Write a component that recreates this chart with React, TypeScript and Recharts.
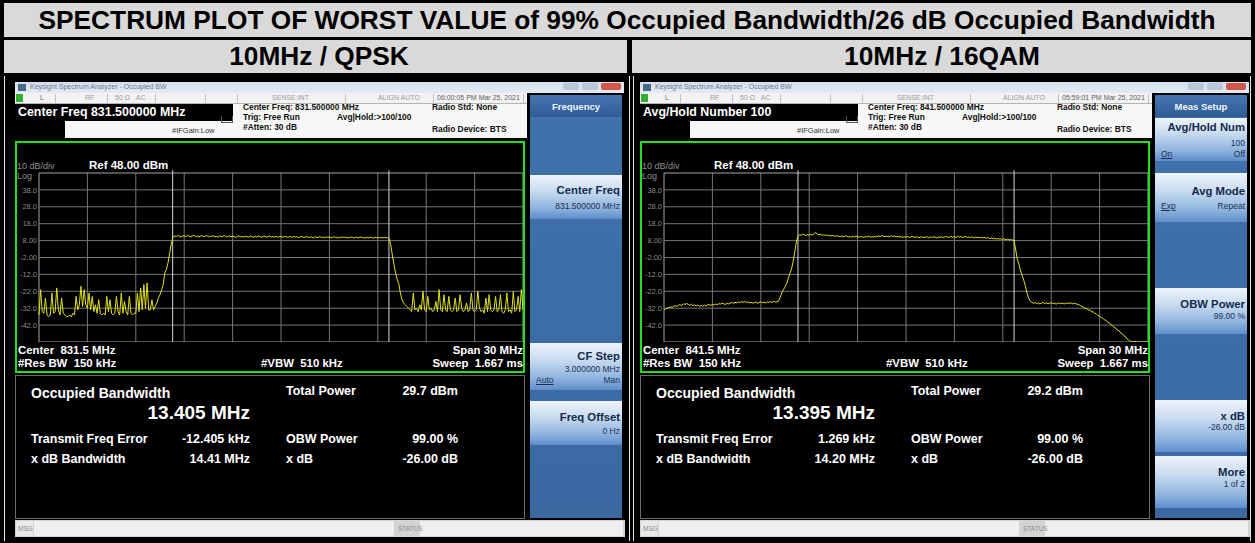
import React from 'react'
import { Line, LineChart, ReferenceLine, XAxis, YAxis } from 'recharts'

const FONT = '"Liberation Sans", Arial, sans-serif'

// sweep: -15 MHz .. +15 MHz around center, 0.1 MHz per point
const FREQ_START = -15
const FREQ_STEP = 0.1

// 10MHz / QPSK trace (dBm)
const qpskTrace = [
  -36, -21, -34, -35, -26, -36, -37, -36, -23, -35,
  -34, -20, -33, -36, -26, -35, -36, -37, -37, -36,
  -37, -35, -36, -25, -33, -30, -19, -31, -21, -30,
  -32, -23, -33, -25, -34, -30, -35, -27, -35, -36,
  -35, -36, -25, -34, -27, -35, -36, -35, -25, -34,
  -36, -23, -35, -28, -34, -36, -25, -35, -36, -35,
  -35, -23, -34, -20, -33, -18, -32, -17, -33, -33,
  -27, -33, -31, -29, -26, -24, -21, -18, -11, -9,
  -5, 0.5, 6, 10.2, 10.8, 10.4, 11, 10.6, 10.1, 10.7,
  10.9, 10.3, 11.2, 10.6, 10.2, 10.8, 11.1, 10.4, 10.7, 10.1,
  10.6, 11.0, 10.3, 10.5, 11.1, 10.2, 10.7, 10.4, 10.9, 10.3,
  10.5, 10.0, 10.8, 10.3, 10.6, 11.0, 10.1, 10.4, 10.7, 10.2,
  10.6, 10.3, 9.9, 10.5, 10.8, 10.2, 10.4, 10.0, 10.6, 10.3,
  10.1, 10.7, 10.4, 10.0, 10.5, 10.2, 10.8, 10.3, 9.9, 10.4,
  10.6, 10.1, 10.3, 10.7, 10.0, 10.4, 10.2, 10.6, 9.9, 10.3,
  10.5, 10.0, 10.3, 10.6, 9.8, 10.2, 10.4, 9.9, 10.5, 10.1,
  10.3, 9.7, 10.2, 10.5, 9.9, 10.1, 10.4, 9.8, 10.2, 10.0,
  9.6, 10.3, 10.0, 9.8, 10.4, 9.9, 10.1, 9.7, 10.2, 9.9,
  10.2, 9.6, 9.9, 10.3, 9.8, 10.0, 9.5, 10.1, 9.8, 10.2,
  9.7, 10.0, 9.6, 9.9, 10.2, 9.5, 9.8, 10.1, 9.6, 9.9,
  10.1, 9.7, 9.5, 9.9, 9.6, 10.0, 9.8, 9.4, 9.9, 9.7,
  9.8, 9.5, 9.9, 9.6, 10.0, 9.7, 9.8, 9.3, 5.6, -0.5,
  -6, -11, -15, -17.5, -23, -27, -29, -30, -31, -32,
  -33, -34, -23, -33, -32, -34, -30, -33, -22, -33,
  -34, -25, -33, -32, -34, -33, -28, -34, -21, -33,
  -34, -24, -33, -34, -25, -33, -34, -33, -26, -34,
  -33, -24, -32, -34, -33, -29, -34, -33, -23, -33,
  -34, -33, -22, -32, -34, -33, -35, -26, -34, -24,
  -33, -34, -33, -25, -34, -33, -24, -34, -35, -33,
  -23, -34, -33, -35, -22, -34, -33, -25, -34, -21,
  -33,
]

// 10MHz / 16QAM trace (dBm)
const qam16Trace = [
  -33.0, -32.4, -32.1, -31.6, -31.3, -31.6, -30.8, -30.5, -30.9, -30.2,
  -29.9, -30.4, -29.4, -29.8, -29.2, -29.7, -30.3, -29.6, -30.5, -30.1,
  -30.6, -30.1, -30.9, -30.4, -30.9, -30.2, -30.7, -30.0, -29.8, -30.4,
  -29.7, -30.1, -29.5, -29.9, -29.3, -29.6, -29.0, -29.4, -29.8, -29.2,
  -29.5, -29.0, -28.7, -29.1, -28.5, -28.9, -28.3, -28.7, -28.1, -28.5,
  -28.0, -28.6, -28.3, -28.9, -28.5, -29.0, -28.7, -28.4, -29.1, -28.6,
  -28.2, -28.7, -28.4, -28.9, -28.3, -28.6, -28.1, -28.5, -28.0, -28.4,
  -28.2, -27.8, -25.5, -23.0, -21.0, -19.5, -17.5, -14.5, -11.5, -9.0,
  -4.5, 1.0, 7.0, 10.6, 11.4, 11.2, 11.8, 11.5, 11.0, 11.6,
  11.2, 11.7, 11.3, 12.1, 12.8, 11.9, 11.4, 11.8, 11.1, 11.5,
  11.0, 11.4, 10.8, 11.2, 10.7, 11.1, 10.5, 10.9, 10.6, 10.3,
  10.7, 10.2, 10.5, 10.9, 10.1, 10.4, 10.0, 10.6, 10.2, 10.8,
  10.3, 10.0, 10.5, 10.1, 9.9, 10.4, 10.2, 10.7, 10.0, 10.3,
  10.1, 10.5, 10.2, 10.8, 10.4, 10.9, 10.6, 10.3, 10.7, 10.2,
  10.5, 10.9, 10.4, 10.7, 10.2, 10.5, 10.1, 10.4, 9.9, 10.3,
  10.0, 10.4, 9.8, 10.2, 10.5, 9.9, 10.1, 10.3, 9.7, 10.0,
  10.2, 9.8, 10.0, 10.4, 9.7, 10.1, 9.9, 10.3, 10.0, 9.6,
  10.1, 9.9, 10.3, 9.8, 10.2, 10.5, 9.9, 10.1, 10.4, 10.0,
  10.3, 9.8, 10.6, 10.1, 10.4, 9.9, 10.2, 10.5, 9.8, 10.1,
  9.9, 10.2, 9.6, 10.0, 9.7, 10.1, 9.5, 9.9, 9.6, 9.8,
  9.4, 9.7, 9.2, 9.6, 9.0, 9.4, 8.9, 9.3, 8.8, 9.1,
  8.7, 9.0, 8.5, 8.9, 8.4, 8.6, 8.3, 8.2, 2.5, -3.0,
  -6.0, -10.0, -12.5, -15.5, -19.0, -23.0, -26.0, -27.8, -28.6, -29.0,
  -28.7, -29.2, -28.9, -29.5, -29.0, -28.6, -29.3, -28.8, -29.4, -29.0,
  -28.8, -29.3, -29.0, -29.6, -29.1, -28.9, -29.4, -29.0, -29.5, -29.1,
  -28.9, -29.2, -28.8, -29.4, -29.0, -29.3, -29.6, -29.8, -30.4, -31.0,
  -31.3, -32.2, -32.1, -33.2, -33.0, -34.2, -34.1, -35.0, -35.4, -36.4,
  -36.7, -37.6, -37.9, -38.9, -39.2, -40.3, -40.7, -41.8, -42.2, -43.3,
  -43.7, -45.0, -45.3, -46.6, -47.0, -48.3, -48.8, -50.2, -50.8, -51.6,
  -51.8, -51.9, -51.7, -52.0, -51.9, -52.0, -51.8, -52.0, -52.0, -51.9,
  -52.0,
]

// Ref 48 dBm, 10 dB/div
const yTicks = [48, 38, 28, 18, 8, -2, -12, -22, -32, -42, -52]
const yLabels = ['', '38.0', '28.0', '18.0', '8.00', '-2.00', '-12.0', '-22.0', '-32.0', '-42.0', '']
const xTicks = [-15, -12, -9, -6, -3, 0, 3, 6, 9, 12, 15]

// measured results
const obwMHz = [13.405, 13.395]
const freqErrKHz = [-12.405, 1.269]
const totalPower = ['29.7 dBm', '29.2 dBm']
const freqErrText = ['-12.405 kHz', '1.269 kHz']
const xdbBwText = ['14.41 MHz', '14.20 MHz']
const centerText = ['831.5 MHz', '841.5 MHz']
const centerFreqText = ['831.500000 MHz', '841.500000 MHz']
const clockText = ['06:00:05 PM Mar 25, 2021', '05:59:01 PM Mar 25, 2021']
const headerText = ['Center Freq 831.500000 MHz', 'Avg/Hold Number 100']
const menuTitle = ['Frequency', 'Meas Setup']
const columnTitles = ['10MHz / QPSK', '10MHz / 16QAM']

type SoftKey = {
  top: number
  bottom: number
  title: string
  ty: number
  value?: string
  vy?: number
  optL?: string
  optR?: string
  oy?: number
}

const freqKeys: SoftKey[] = [
  { top: 175, bottom: 219, title: 'Center Freq', ty: 191, value: '831.500000 MHz', vy: 206 },
  { top: 343, bottom: 390, title: 'CF Step', ty: 357, value: '3.000000 MHz', vy: 369, optL: 'Auto', optR: 'Man', oy: 380 },
  { top: 401, bottom: 445, title: 'Freq Offset', ty: 418, value: '0 Hz', vy: 431 },
]
const measKeys: SoftKey[] = [
  { top: 118, bottom: 161, title: 'Avg/Hold Num', ty: 128, value: '100', vy: 143, optL: 'On', optR: 'Off', oy: 154 },
  { top: 173, bottom: 222, title: 'Avg Mode', ty: 192, optL: 'Exp', optR: 'Repeat', oy: 206 },
  { top: 288, bottom: 334, title: 'OBW Power', ty: 305, value: '99.00 %', vy: 316 },
  { top: 400, bottom: 452, title: 'x dB', ty: 417, value: '-26.00 dB', vy: 427 },
  { top: 456, bottom: 508, title: 'More', ty: 473, value: '1 of 2', vy: 484 },
]
const softKeys = [freqKeys, measKeys]
const traces = [qpskTrace, qam16Trace]

type TProps = {
  x: number
  y: number
  s: number
  c?: string
  b?: boolean
  a?: 'start' | 'middle' | 'end'
  u?: boolean
  children: React.ReactNode
}

// text placed by its visual centre
function T({ x, y, s, c = '#fff', b = false, a = 'start', u = false, children }: TProps) {
  const shift = a === 'end' ? 'translateX(-100%)' : a === 'middle' ? 'translateX(-50%)' : undefined
  return (
    <div
      style={{
        position: 'absolute',
        left: x,
        top: y - s * 0.6,
        fontSize: s,
        lineHeight: `${s * 1.2}px`,
        color: c,
        fontWeight: b ? 'bold' : 'normal',
        whiteSpace: 'pre',
        transform: shift,
        textDecoration: u ? 'underline' : undefined,
      }}
    >
      {children}
    </div>
  )
}

function Box({ x, y, w, h, bg, style }: { x: number; y: number; w: number; h: number; bg: string; style?: React.CSSProperties }) {
  return <div style={{ position: 'absolute', left: x, top: y, width: w, height: h, background: bg, ...style }} />
}

function Trace({ idx }: { idx: number }) {
  const rows = traces[idx].map((v, i) => ({ f: Math.round((FREQ_START + i * FREQ_STEP) * 10) / 10, v }))
  const c = freqErrKHz[idx] / 1000
  const lo = c - obwMHz[idx] / 2
  const hi = c + obwMHz[idx] / 2
  const edge = (v: number, ticks: number[]) => v === ticks[0] || v === ticks[ticks.length - 1]
  return (
    <LineChart width={508} height={173} data={rows} margin={{ top: 4, right: 0, bottom: 0, left: 0 }}>
      <XAxis
        dataKey='f'
        type='number'
        domain={[-15, 15]}
        ticks={xTicks}
        tick={false}
        tickLine={false}
        axisLine={false}
        height={0}
        interval={0}
      />
      <YAxis
        type='number'
        domain={[-52, 48]}
        ticks={yTicks}
        interval={0}
        width={24}
        tickLine={false}
        axisLine={false}
        tickSize={0}
        tickMargin={2}
        tick={{ fill: '#8c8c8c', fontSize: 7.5, fontFamily: FONT }}
        tickFormatter={(v: number) => yLabels[yTicks.indexOf(v)] ?? ''}
      />
      {/* graticule */}
      {xTicks.map((x) => (
        <ReferenceLine
          key={'gx' + x}
          segment={[{ x, y: -52 }, { x, y: 48 }]}
          stroke={edge(x, xTicks) ? '#a4a4a4' : '#767676'}
          ifOverflow='visible'
        />
      ))}
      {yTicks.map((y) => (
        <ReferenceLine
          key={'gy' + y}
          segment={[{ x: -15, y }, { x: 15, y }]}
          stroke={edge(y, yTicks) ? '#a4a4a4' : '#767676'}
          ifOverflow='visible'
        />
      ))}
      {/* OBW markers */}
      <ReferenceLine segment={[{ x: lo, y: -52 }, { x: lo, y: 49.6 }]} stroke='#d6d6d6' ifOverflow='visible' />
      <ReferenceLine segment={[{ x: hi, y: -52 }, { x: hi, y: 49.6 }]} stroke='#d6d6d6' ifOverflow='visible' />
      <Line
        dataKey='v'
        type='linear'
        stroke='#e2e21c'
        strokeWidth={1}
        dot={false}
        isAnimationActive={false}
      />
    </LineChart>
  )
}

function Screen({ idx, left }: { idx: number; left: number }) {
  const sep = [40, 92, 140, 190, 222, 330, 418, 508]
  return (
    <div style={{ position: 'absolute', left, top: 0, width: 610, height: 543 }}>
      {/* window title bar */}
      <Box x={0} y={82} w={609} h={11} bg='linear-gradient(#d4dfec, #e3eaf3)' />
      <Box x={3} y={84} w={8} h={7} bg='#4a6a8a' />
      <T x={15} y={87.5} s={7} c='#6a7891'>Keysight Spectrum Analyzer - Occupied BW</T>
      <Box x={548} y={83} w={16} h={7} bg='#b8c8da' style={{ borderRadius: 2 }} />
      <Box x={567} y={83} w={16} h={7} bg='#b8c8da' style={{ borderRadius: 2 }} />
      <Box x={586} y={83} w={20} h={7} bg='#d2574a' style={{ borderRadius: 2 }} />

      {/* status row */}
      <Box x={0} y={93} w={512} h={10} bg='#f2f2f2' style={{ borderBottom: '1px solid #b5b5b5' }} />
      <Box x={1} y={94} w={7} h={8} bg='#2fae2f' />
      {sep.map((s) => (
        <Box key={s} x={s} y={94} w={1} h={9} bg='#c2c2c2' />
      ))}
      <T x={25} y={98.5} s={7} c='#707070'>L</T>
      <T x={70} y={98.5} s={7} c='#9a9a9a'>RF</T>
      <T x={100} y={98.5} s={7} c='#9a9a9a'>{'50 Ω   AC'}</T>
      <T x={257} y={98.5} s={7} c='#9a9a9a'>SENSE:INT</T>
      <T x={363} y={98.5} s={7} c='#9a9a9a'>ALIGN AUTO</T>
      <T x={422} y={98.5} s={7} c='#606060'>{clockText[idx]}</T>

      {/* settings header */}
      <Box x={0} y={104} w={512} h={34} bg='#f7f7f7' />
      <Box x={0} y={104} w={218} h={17} bg='#000' />
      <Box x={0} y={121} w={50} h={17} bg='#000' />
      <T x={3} y={112} s={12.4} b>{headerText[idx]}</T>
      <T x={228} y={107} s={8.4} b c='#111'>{'Center Freq: ' + centerFreqText[idx]}</T>
      <T x={228} y={117} s={8.4} b c='#111'>Trig: Free Run</T>
      <T x={322} y={117} s={8.4} b c='#111'>{'Avg|Hold:>100/100'}</T>
      <T x={228} y={127} s={8.4} b c='#111'>#Atten: 30 dB</T>
      <T x={157} y={130} s={7.5} c='#333'>#IFGain:Low</T>
      <T x={417} y={107} s={8.4} b c='#111'>Radio Std: None</T>
      <T x={417} y={129} s={8.4} b c='#111'>Radio Device: BTS</T>
      <Box x={206} y={116} w={10} h={6} bg='transparent' style={{ border: '1px solid #555', borderTop: 'none' }} />

      {/* trace window */}
      <Box x={0} y={141} w={510} h={232} bg='#000' style={{ border: '2px solid #1ee41e', boxSizing: 'border-box' }} />
      <T x={2} y={166} s={9} c='#8f8f8f'>10 dB/div</T>
      <T x={74} y={166} s={11.5} b>Ref 48.00 dBm</T>
      <T x={2} y={176} s={9} c='#8f8f8f'>Log</T>
      <div style={{ position: 'absolute', left: 0, top: 169 }}>
        <Trace idx={idx} />
      </div>
      <T x={3} y={351} s={11.4} b>{'Center  ' + centerText[idx]}</T>
      <T x={3} y={364} s={11.4} b>#Res BW  150 kHz</T>
      <T x={246} y={364} s={11.4} b>#VBW  510 kHz</T>
      <T x={508} y={351} s={11.4} b a='end'>Span 30 MHz</T>
      <T x={508} y={364} s={11.4} b a='end'>Sweep  1.667 ms</T>

      {/* results */}
      <Box x={0} y={375} w={510} h={144} bg='#000' style={{ border: '1px solid #6a6a6a', boxSizing: 'border-box' }} />
      <T x={16} y={393} s={14} b>Occupied Bandwidth</T>
      <T x={235} y={413} s={19} b a='end'>{obwMHz[idx].toFixed(3) + ' MHz'}</T>
      <T x={271} y={391} s={12.5} b>Total Power</T>
      <T x={443} y={391} s={12.5} b a='end'>{totalPower[idx]}</T>
      <T x={16} y={439} s={12.5} b>Transmit Freq Error</T>
      <T x={235} y={439} s={12.5} b a='end'>{freqErrText[idx]}</T>
      <T x={271} y={439} s={12.5} b>OBW Power</T>
      <T x={443} y={439} s={12.5} b a='end'>99.00 %</T>
      <T x={16} y={459} s={12.5} b>x dB Bandwidth</T>
      <T x={235} y={459} s={12.5} b a='end'>{xdbBwText[idx]}</T>
      <T x={271} y={459} s={12.5} b>x dB</T>
      <T x={443} y={459} s={12.5} b a='end'>-26.00 dB</T>

      {/* softkey menu */}
      <Box x={515} y={95} w={92} h={423} bg='linear-gradient(#4072ad, #3a69a2)' />
      <Box x={515} y={95} w={92} h={22} bg='linear-gradient(#4676b0, #2f5c95)' />
      <T x={561} y={107} s={9.5} b a='middle' c='#eef4fb'>{menuTitle[idx]}</T>
      {softKeys[idx].map((k) => (
        <React.Fragment key={k.title}>
          <Box
            x={515}
            y={k.top}
            w={92}
            h={k.bottom - k.top}
            bg='linear-gradient(#eef4fb 0%, #c9dcf0 35%, #8fb4de 75%, #5f8ecb 100%)'
          />
          <T x={605} y={k.ty} s={11.3} b a='end' c='#14294b'>{k.title}</T>
          {k.value && <T x={605} y={k.vy!} s={8.5} a='end' c='#1c2f52'>{k.value}</T>}
          {k.optL && <T x={521} y={k.oy!} s={8.5} u c='#1c2f52'>{k.optL}</T>}
          {k.optR && <T x={605} y={k.oy!} s={8.5} a='end' c='#1c2f52'>{k.optR}</T>}
        </React.Fragment>
      ))}

      {/* message bar */}
      <Box x={0} y={520} w={610} h={17} bg='#d3d3d3' />
      <Box x={1} y={521} w={17} h={15} bg='#e9e9e9' />
      <Box x={19} y={521} w={360} h={15} bg='#efefef' />
      <Box x={405} y={521} w={203} h={15} bg='#efefef' />
      <T x={3} y={528.5} s={6.5} c='#8a8a8a'>MSG</T>
      <T x={383} y={528.5} s={6.5} c='#8a8a8a'>STATUS</T>
    </div>
  )
}

export default function App() {
  return (
    <div
      style={{
        position: 'absolute',
        left: 0,
        top: 0,
        width: 1255,
        height: 543,
        background: '#000',
        overflow: 'hidden',
        fontFamily: FONT,
      }}
    >
      <Box x={4} y={3} w={1247} h={34} bg='#d9d9d9' />
      <T x={627} y={20.5} s={26.3} b a='middle' c='#000'>
        SPECTRUM PLOT OF WORST VALUE of 99% Occupied Bandwidth/26 dB Occupied Bandwidth
      </T>
      <Box x={4} y={40} w={623} h={33} bg='#d9d9d9' />
      <Box x={632} y={40} w={619} h={33} bg='#d9d9d9' />
      <T x={319} y={57} s={26.3} b a='middle' c='#000'>{columnTitles[0]}</T>
      <T x={942} y={57} s={26.3} b a='middle' c='#000'>{columnTitles[1]}</T>
      <Box x={4} y={76} w={1} h={465} bg='#e8e8e8' />
      <Box x={629} y={76} w={1} h={465} bg='#e8e8e8' />
      <Box x={633} y={76} w={1} h={465} bg='#e8e8e8' />
      <Box x={1250} y={76} w={1} h={465} bg='#e8e8e8' />
      <Screen idx={0} left={15} />
      <Screen idx={1} left={640} />
    </div>
  )
}
